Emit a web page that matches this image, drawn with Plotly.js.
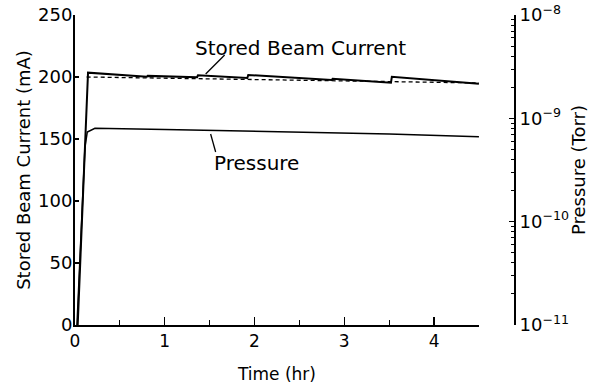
<!DOCTYPE html>
<html>
<head>
<meta charset="utf-8">
<script src="https://cdn.plot.ly/plotly-3.0.1.min.js"></script>
<style>html,body{margin:0;padding:0;background:#fff;}#chart{width:589px;height:388px;}</style>
</head>
<body>
<div id="chart"></div>
<script>
// Stored beam current (mA) vs time (hr)
var currentTime = [0.03, 0.145, 0.80, 0.81, 1.36, 1.37, 1.92, 1.93, 2.86, 2.87, 3.52, 3.53, 4.50];
var currentValues = [0, 203.5, 200.2, 200.9, 199.8, 201.4, 199.2, 201.6, 197.6, 198.6, 195.4, 200.2, 194.6];
// Dashed reference current
var refTime = [0.13, 4.50];
var refValues = [200.0, 195.2];
// Pressure (Torr) vs time (hr)
var pressureTime = [0.022, 0.081, 0.111, 0.137, 0.222, 1.0, 2.0, 3.0, 3.5, 4.5];
var pressureValues = [1.0e-11, 1.62e-10, 5.28e-10, 7.38e-10, 8.01e-10, 7.80e-10, 7.54e-10, 7.29e-10, 7.05e-10, 6.64e-10];
// Tick labels
var xTicks = [0, 1, 2, 3, 4];
var yTicks = [0, 50, 100, 150, 200, 250];
var pTicks = [1e-11, 1e-10, 1e-9, 1e-8];
var pTickText = ['10<sup>\u221211</sup>', '10<sup>\u221210</sup>', '10<sup>\u22129</sup>', '10<sup>\u22128</sup>'];

var pMinor = [];
[-11, -10, -9].forEach(function (e) {
  for (var m = 2; m <= 9; m++) pMinor.push(m * Math.pow(10, e));
});

var FONT = 'DejaVu Sans, Liberation Sans, Arial, sans-serif';

var traces = [
  {x: currentTime, y: currentValues, type: 'scatter', mode: 'lines',
   line: {color: '#000', width: 2}, xaxis: 'x', yaxis: 'y', hoverinfo: 'skip'},
  {x: refTime, y: refValues, type: 'scatter', mode: 'lines',
   line: {color: '#000', width: 1.3, dash: '4px,3px'}, xaxis: 'x', yaxis: 'y', hoverinfo: 'skip'},
  {x: pressureTime, y: pressureValues, type: 'scatter', mode: 'lines',
   line: {color: '#000', width: 1.5}, xaxis: 'x', yaxis: 'y2', hoverinfo: 'skip'}
];

var layout = {
  width: 589, height: 388,
  margin: {l: 75, r: 74, t: 15, b: 63},
  paper_bgcolor: '#fff', plot_bgcolor: '#fff',
  showlegend: false,
  font: {family: FONT, color: '#000', size: 17},
  xaxis: {
    domain: [0, 0.918], range: [0, 4.5], fixedrange: true,
    showline: true, linecolor: '#000', linewidth: 2,
    showgrid: false, zeroline: false,
    tickmode: 'array', tickvals: xTicks, ticktext: xTicks.map(String),
    ticks: 'inside', ticklen: 8, tickwidth: 1.2, tickcolor: '#000',
    minor: {tickmode: 'linear', tick0: 0.5, dtick: 1, ticks: 'inside', ticklen: 5, tickwidth: 1.2, tickcolor: '#000'},
    tickfont: {size: 17},
    title: {text: 'Time (hr)', font: {size: 17}, standoff: 18}
  },
  yaxis: {
    range: [0, 250], fixedrange: true,
    showline: true, linecolor: '#000', linewidth: 2,
    showgrid: false, zeroline: false,
    tickmode: 'array', tickvals: yTicks, ticktext: yTicks.map(String),
    ticks: 'inside', ticklen: 4, tickwidth: 1.2, tickcolor: '#000',
    ticklabelstandoff: -3,
    tickfont: {size: 18},
    title: {text: 'Stored Beam Current (mA)', font: {size: 18}, standoff: 3}
  },
  yaxis2: {
    type: 'log', range: [-11, -8], overlaying: 'y', side: 'right',
    anchor: 'free', position: 1, fixedrange: true,
    showline: true, linecolor: '#000', linewidth: 2,
    showgrid: false, zeroline: false,
    tickmode: 'array', tickvals: pTicks, ticktext: pTickText,
    ticks: 'inside', ticklen: 5, tickwidth: 1.2, tickcolor: '#000',
    minor: {tickmode: 'array', tickvals: pMinor, ticks: 'inside', ticklen: 3, tickwidth: 1, tickcolor: '#000'},
    tickfont: {size: 18},
    title: {text: 'Pressure (Torr)', font: {size: 18}, standoff: 4}
  },
  annotations: [
    {x: 2.51, y: 223.4, xref: 'x', yref: 'y', text: 'Stored Beam Current', showarrow: false,
     font: {size: 20}, xanchor: 'center', yanchor: 'middle'},
    {x: 2.02, y: 130.6, xref: 'x', yref: 'y', text: 'Pressure', showarrow: false,
     font: {size: 20}, xanchor: 'center', yanchor: 'middle'}
  ],
  shapes: [
    {type: 'line', xref: 'x', yref: 'y', x0: 1.667, y0: 217.7, x1: 1.456, y1: 202.4, line: {color: '#000', width: 1.3}},
    {type: 'line', xref: 'x', yref: 'y', x0: 1.511, y0: 154.0, x1: 1.567, y1: 139.5, line: {color: '#000', width: 1.3}}
  ]
};

Plotly.newPlot('chart', traces, layout, {staticPlot: true, displayModeBar: false});
</script>
</body>
</html>
